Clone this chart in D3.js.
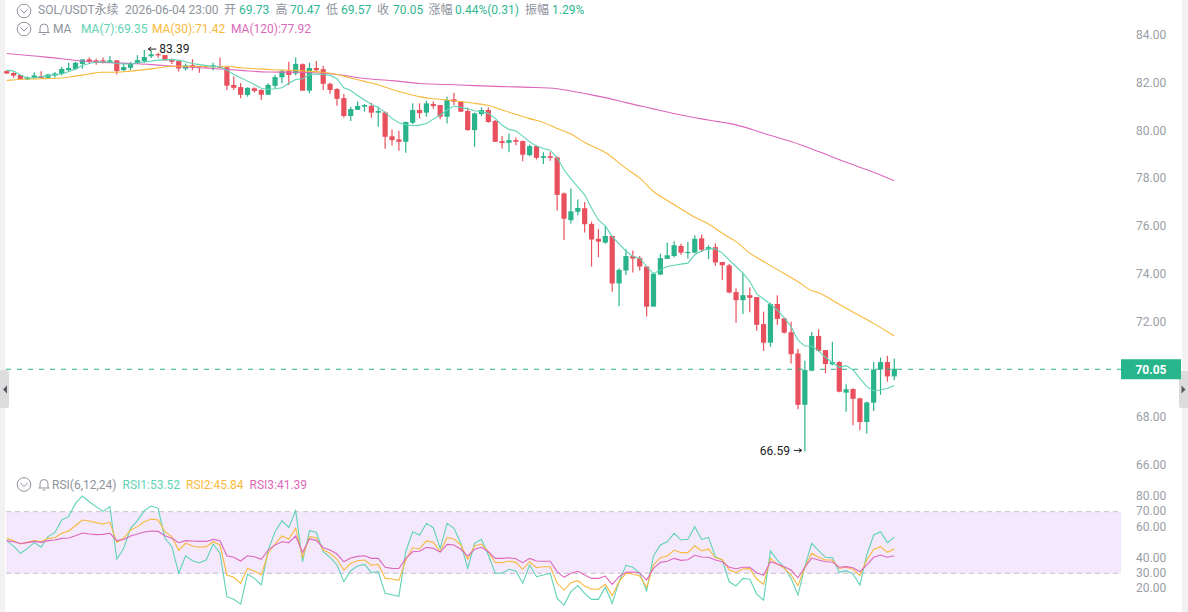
<!DOCTYPE html>
<html>
<head>
<meta charset="utf-8">
<title>SOL/USDT</title>
<script src="https://cdn.jsdelivr.net/npm/d3@7/dist/d3.min.js"></script>
<style>
html,body{margin:0;padding:0;background:#fff;overflow:hidden}
svg{display:block}
text{font-family:Roboto,"Noto Sans CJK SC",sans-serif;font-size:12px}
</style>
</head>
<body>
<svg id="chart" width="1188" height="612"></svg>
<script>
// Hourly candles, oldest first
const opens=[82.51,82.43,82.35,82.16,82.23,82.30,82.23,82.32,82.39,82.55,82.60,82.81,83.00,82.96,82.96,82.86,82.96,82.55,82.65,82.83,82.92,83.13,83.22,83.18,82.99,82.93,82.61,82.76,82.72,82.72,82.67,82.71,82.67,81.93,81.84,81.51,81.79,81.72,81.52,81.89,82.25,82.51,82.41,
82.80,81.69,82.64,82.59,81.98,81.76,81.38,80.63,80.89,81.02,81.05,80.77,80.78,79.78,79.65,79.55,80.35,80.88,80.77,81.13,81.09,80.60,81.33,81.23,80.84,80.04,80.71,80.88,80.42,79.58,79.51,79.62,79.58,78.99,79.37,78.88,78.95,78.90,77.39,76.27,76.62,
76.77,76.11,75.49,75.33,75.61,73.62,74.16,74.77,74.68,74.33,72.65,73.99,74.65,74.77,75.19,74.90,74.91,75.51,75.05,75.14,74.52,74.38,73.26,72.92,73.13,73.05,71.92,71.14,72.76,72.16,71.58,70.69,68.54,69.97,71.42,70.83,70.23,70.33,69.05,69.20,68.81,67.82,68.63,70.02,70.33,69.73];
const highs=[82.53,82.46,82.35,82.28,82.46,82.50,82.40,82.47,82.69,82.86,82.90,83.00,83.08,83.03,83.08,83.14,82.96,82.85,82.89,83.18,83.39,83.36,83.28,83.18,83.04,82.93,82.83,83.01,82.72,82.75,82.86,83.08,82.69,82.28,82.00,81.83,81.83,81.75,82.00,82.35,82.58,82.90,83.08,
82.83,82.86,82.93,82.73,82.02,81.79,81.55,81.02,81.24,81.13,81.19,81.02,80.82,80.07,80.01,80.40,81.16,81.16,81.27,81.24,81.09,81.44,81.60,81.23,80.99,80.77,80.99,80.99,80.46,79.79,79.90,79.73,79.60,79.44,79.40,79.11,79.13,78.93,77.43,77.60,77.14,
77.03,76.21,75.90,76.03,75.61,74.26,75.05,75.00,74.77,74.36,74.08,74.86,75.33,75.39,75.28,75.36,75.64,75.67,75.22,75.30,74.52,74.44,73.42,74.07,73.45,73.05,72.44,72.81,73.13,72.18,72.02,70.89,70.39,71.59,71.70,70.83,71.18,70.36,69.40,69.23,68.84,68.67,70.33,70.52,70.59,70.47];
const lows=[82.39,82.23,82.16,82.14,82.19,82.19,82.19,82.23,82.33,82.47,82.55,82.61,82.85,82.78,82.83,82.86,82.37,82.49,82.55,82.81,82.86,83.06,83.07,82.93,82.81,82.49,82.53,82.55,82.44,82.64,82.53,82.64,81.72,81.72,81.37,81.44,81.62,81.30,81.51,81.77,82.00,81.93,82.33,
81.69,81.58,82.50,81.72,81.56,81.06,80.57,80.42,80.88,80.81,80.56,80.18,79.26,79.40,79.18,79.09,80.29,80.53,80.60,80.93,80.49,80.32,81.09,80.80,80.01,79.34,80.63,80.35,79.54,79.27,79.11,79.41,78.74,78.95,78.81,78.62,78.76,76.67,75.44,76.13,76.46,
75.75,74.33,74.72,75.28,73.27,72.67,73.97,74.08,74.16,72.24,72.65,73.98,74.64,74.72,74.82,74.66,74.89,74.94,74.64,74.36,73.77,73.21,71.98,72.34,72.41,71.64,70.80,70.97,71.88,71.53,70.27,68.35,66.59,69.95,70.76,69.86,70.20,69.07,68.25,67.69,67.48,67.34,68.28,68.96,69.51,69.57];
const closes=[82.41,82.32,82.18,82.25,82.33,82.22,82.37,82.41,82.60,82.64,82.86,83.00,82.90,82.86,82.86,82.96,82.51,82.68,82.85,82.97,83.10,83.21,83.17,82.96,82.90,82.62,82.75,82.67,82.68,82.68,82.75,82.65,81.90,81.81,81.52,81.81,81.68,81.52,81.93,82.26,82.50,82.35,82.81,
81.69,82.64,82.55,81.98,81.72,81.35,80.63,80.92,81.05,81.09,80.77,80.84,79.76,79.62,79.55,80.38,80.88,80.75,81.16,81.05,80.60,81.30,81.23,80.81,80.04,80.74,80.88,80.38,79.55,79.50,79.62,79.55,79.01,79.37,78.88,78.95,78.88,77.33,76.33,76.64,76.78,
76.10,75.46,75.37,75.61,73.62,74.19,74.77,74.66,74.33,72.65,74.02,74.68,74.80,75.22,74.91,74.94,75.49,75.03,75.14,74.50,74.38,73.24,72.92,73.13,73.02,71.89,71.14,72.76,72.14,71.56,70.66,68.54,70.00,71.42,70.80,70.25,70.33,69.09,69.19,68.79,67.82,68.64,70.02,70.33,69.73,70.05];

// Moving averages
const ma7=[82.55,82.51,82.35,82.22,82.23,82.28,82.32,82.36,82.40,82.48,82.60,82.74,82.83,82.89,82.89,82.89,82.83,82.81,82.81,82.86,82.89,82.93,82.97,82.99,82.99,82.97,82.90,82.83,82.78,82.74,82.71,82.69,82.55,82.37,82.23,82.09,81.95,81.79,81.75,81.77,81.81,82.00,82.16,
82.19,82.36,82.39,82.37,82.33,82.19,81.81,81.70,81.49,81.30,81.12,80.99,80.78,80.53,80.35,80.27,80.22,80.25,80.32,80.50,80.67,80.88,81.05,80.99,80.93,80.85,80.81,80.74,80.53,80.24,80.07,80.00,79.79,79.55,79.37,79.27,79.20,78.88,78.38,78.00,77.66,
77.33,76.77,76.28,76.03,75.58,75.28,74.98,74.75,74.68,74.33,74.02,74.19,74.33,74.38,74.43,74.47,74.82,74.98,75.07,75.07,74.89,74.61,74.33,74.05,73.70,73.18,72.97,72.75,72.50,72.19,71.81,71.25,71.00,71.00,70.80,70.53,70.30,70.11,70.18,70.00,69.65,69.30,69.13,69.16,69.23,69.35];
const ma30Index=[0,3,5,8,10,12,14,16,18,20,22,24,26,28,30,32,34,36,38,40,42,44,46,48,50,52,54,56,58,60,62,64,66,68,70,72,74,76,78,80,82,84,87,90,92,94,96,98,100,102,104,106,108,110,112,114,115,117,118,120,122,124,126,128,129];
const ma30=[82.12,82.18,82.19,82.22,82.30,82.39,82.46,82.46,82.51,82.57,82.64,82.71,82.71,82.71,82.69,82.71,82.65,82.61,82.58,82.55,82.54,82.50,82.46,82.37,82.22,82.08,81.94,81.74,81.58,81.44,81.35,81.30,81.24,81.16,81.07,80.88,80.70,80.52,80.36,80.11,79.88,79.52,79.10,78.44,78.03,77.47,77.09,76.74,76.39,76.11,75.72,75.37,74.89,74.54,74.20,73.87,73.69,73.32,73.23,72.92,72.58,72.27,71.95,71.60,71.42];
const ma120Index=[0,4,8,11,15,19,22,26,30,34,38,42,48,52,56,60,64,68,72,76,80,82,84,87,90,94,98,102,106,110,114,118,122,126,129];
const ma120=[83.25,83.14,83.03,82.93,82.86,82.82,82.76,82.68,82.62,82.54,82.47,82.46,82.37,82.20,82.11,81.99,81.95,81.90,81.86,81.83,81.77,81.68,81.57,81.40,81.19,80.93,80.67,80.46,80.26,79.91,79.56,79.14,78.69,78.28,77.92];

// Relative strength series
const rsi1=[51.2,47.7,43.0,46.0,49.9,46.9,53.8,56.4,64.6,66.8,75.4,80.2,76.5,73.3,70.2,73.3,39.1,46.2,59.2,64.2,70.7,73.7,72.2,52.7,47.3,30.0,41.4,38.2,36.9,38.6,49.0,43.0,14.8,13.1,10.0,29.5,26.7,22.4,45.1,57.0,64.2,59.8,70.7,37.5,57.7,56.6,44.1,40.4,35.4,24.6,31.7,34.7,35.8,30.4,31.1,17.0,16.1,15.0,
44.0,57.0,54.9,62.4,59.6,46.2,62.4,59.2,49.5,33.2,49.5,52.1,41.9,30.0,30.0,32.6,31.5,23.5,35.4,27.8,28.9,30.0,13.7,9.4,18.1,22.0,17.0,13.1,13.1,20.9,10.5,24.6,35.2,33.9,30.0,18.5,41.2,48.4,50.5,56.0,51.6,52.1,
60.3,52.0,53.3,40.8,38.6,24.5,21.7,26.7,26.1,16.5,12.6,44.7,38.6,33.9,26.7,15.9,34.3,49.4,44.7,40.4,40.2,30.6,31.7,29.5,22.4,41.9,54.9,57.0,49.9,53.52];
const rsi2=[52.7,51.2,49.0,50.1,51.2,50.5,52.7,53.1,56.0,57.5,60.9,64.6,64.0,62.9,62.0,63.1,50.1,52.7,58.1,60.3,63.5,65.2,64.6,57.0,53.8,44.9,49.5,47.7,46.9,47.3,50.5,48.4,28.9,27.4,23.5,33.2,31.5,28.9,43.0,49.0,54.2,52.3,59.2,40.4,53.8,53.1,45.1,43.0,39.1,32.1,36.5,38.2,38.6,35.2,35.8,26.7,26.3,25.4,
38.6,46.6,45.8,51.0,50.1,44.0,53.1,52.3,48.4,39.1,47.7,49.0,44.0,36.9,36.9,38.0,37.1,32.6,37.5,33.6,34.3,34.3,23.5,19.1,23.9,25.2,21.7,19.6,19.6,22.8,15.5,24.6,30.0,29.5,28.2,20.9,35.4,40.1,41.2,45.1,43.4,43.4,
47.9,44.5,45.8,40.1,39.0,32.1,30.6,32.8,33.0,26.3,22.8,39.7,36.0,33.2,28.9,22.0,33.9,43.0,40.4,38.6,38.6,33.2,33.9,32.6,28.7,38.6,45.5,47.3,43.6,45.84];
const rsi3=[51.2,50.5,49.4,49.9,50.7,50.1,51.2,51.6,52.7,52.9,54.4,56.2,55.5,55.1,55.3,56.0,51.2,52.0,54.2,55.5,56.8,57.5,57.2,54.4,52.7,49.9,51.2,51.0,50.7,50.7,52.0,51.2,41.4,40.4,38.0,41.4,40.8,39.1,45.1,48.4,50.5,49.9,54.2,43.6,52.3,51.4,46.6,45.1,42.5,37.5,39.9,41.0,41.4,39.7,39.7,33.9,33.2,33.1,
39.7,44.0,44.3,46.9,46.2,43.8,48.8,48.4,45.6,41.2,45.6,46.9,44.0,39.7,39.7,40.1,39.5,36.9,39.7,38.0,37.8,37.8,31.1,27.4,30.0,31.3,28.9,26.7,26.7,28.2,22.8,27.8,30.6,30.8,30.4,25.6,33.2,37.1,37.8,39.7,38.4,38.8,
41.7,40.6,40.4,38.6,37.5,33.9,33.0,33.9,33.9,30.4,28.7,37.5,36.0,34.3,32.1,27.1,33.9,39.9,38.6,37.5,37.3,33.9,34.3,33.6,31.0,35.4,40.4,41.9,40.4,41.39];

const priceTicks=[84,82,80,78,76,74,72,68,66];
const rsiTicks=[80,70,60,40,30,20];
const rsiBand=[30,70];
const lastPrice=70.05;
const peak={index:20,value:83.39};
const trough={index:116,value:66.59};

const summaryRow=[
  ["SOL/USDT永续",38,"label"],["2026-06-04 23:00",125,"label"],
  ["开",224,"label"],["69.73",239,"value"],["高",275.5,"label"],["70.47",290,"value"],
  ["低",326,"label"],["69.57",341,"value"],["收",377,"label"],["70.05",393,"value"],
  ["涨幅",428.5,"label"],["0.44%(0.31)",455,"value"],["振幅",525,"label"],["1.29%",552,"value"]
];
const maRow=[["MA",53,"label"],["MA(7):69.35",81,"ma7"],["MA(30):71.42",152,"ma30"],["MA(120):77.92",231,"ma120"]];
const rsiRow=[["RSI(6,12,24)",52,"label"],["RSI1:53.52",122.5,"ma7"],["RSI2:45.84",186,"ma30"],["RSI3:41.39",249.5,"ma120"]];

const colors={up:"#2bb48c",down:"#e9505d",ma7:"#5fd3b6",ma30:"#f8b93c",ma120:"#dc68bb",
  label:"#8e939c",value:"#2fb892",axis:"#9a9ea6",band:"#f4e8fc",edge:"#f2f2f3",handle:"#dcdcdd"};
const headerColor={label:colors.label,value:colors.value,ma7:colors.ma7,ma30:colors.ma30,ma120:colors.ma120};

const svg=d3.select("#chart");
const n=closes.length;
const x=d3.scaleLinear().domain([0,n-1]).range([6.7,894.3]);
const y=d3.scaleLinear().domain([66,84]).range([465.5,35.5]);
const yRsi=d3.scaleLinear().domain([30,70]).range([573.3,511.7]);
const plotLeft=6,plotRight=1121;

// Side rails and their collapse handles
svg.append("rect").attr("x",0).attr("y",0).attr("width",5).attr("height",612).attr("fill",colors.edge);
svg.append("rect").attr("x",1182).attr("y",0).attr("width",6).attr("height",612).attr("fill",colors.edge);
svg.append("rect").attr("x",0).attr("y",370).attr("width",9).attr("height",38).attr("rx",2).attr("fill",colors.handle);
svg.append("rect").attr("x",1179).attr("y",371).attr("width",9).attr("height",37).attr("rx",2).attr("fill",colors.handle);
svg.append("path").attr("d","M3 389.5L7 385.5V393.5Z").attr("fill","#555a60");
svg.append("path").attr("d","M1185.5 389.5L1181.5 385.5V393.5Z").attr("fill","#555a60");

// RSI band
svg.append("rect").attr("x",plotLeft).attr("y",yRsi(rsiBand[1])).attr("width",plotRight-plotLeft)
  .attr("height",yRsi(rsiBand[0])-yRsi(rsiBand[1])).attr("fill",colors.band);
svg.append("g").selectAll("line").data(rsiBand).join("line")
  .attr("x1",plotLeft).attr("x2",plotRight).attr("y1",d=>yRsi(d)).attr("y2",d=>yRsi(d))
  .attr("stroke","#c4c2c9").attr("stroke-dasharray","5 4");

// Candles
const candles=svg.append("g").selectAll("g").data(d3.range(n)).join("g");
const candleColor=i=>closes[i]>=opens[i]?colors.up:colors.down;
candles.append("line")
  .attr("x1",i=>x(i)).attr("x2",i=>x(i)).attr("y1",i=>y(highs[i])).attr("y2",i=>y(lows[i]))
  .attr("stroke",candleColor).attr("stroke-width",1.2);
candles.append("rect")
  .attr("x",i=>x(i)-2.6).attr("width",5.2)
  .attr("y",i=>y(Math.max(opens[i],closes[i])))
  .attr("height",i=>Math.max(1.2,Math.abs(y(opens[i])-y(closes[i]))))
  .attr("fill",candleColor);

// Moving average lines
const drawLine=(xs,vals,scale,color,curve)=>svg.append("path")
  .datum(vals)
  .attr("fill","none").attr("stroke",color).attr("stroke-width",1.1)
  .attr("d",d3.line().x((d,k)=>x(xs[k])).y(d=>scale(d)).curve(curve||d3.curveLinear));
const allIdx=d3.range(n);
drawLine(ma120Index,ma120,y,colors.ma120,d3.curveMonotoneX);
drawLine(ma30Index,ma30,y,colors.ma30,d3.curveMonotoneX);
drawLine(allIdx,ma7,y,colors.ma7);

// RSI lines
drawLine(allIdx,rsi1,yRsi,colors.ma7);
drawLine(allIdx,rsi2,yRsi,colors.ma30);
drawLine(allIdx,rsi3,yRsi,colors.ma120);

// Last price marker
svg.append("line").datum(lastPrice).attr("x1",plotLeft).attr("x2",plotRight)
  .attr("y1",d=>y(d)+0.5).attr("y2",d=>y(d)+0.5)
  .attr("stroke",colors.up).attr("stroke-dasharray","5 6");
svg.append("rect").attr("x",plotRight).attr("width",60).attr("y",y(lastPrice)-9.5).attr("height",20).attr("fill","#27b58b");
svg.append("text").attr("x",1151).attr("y",y(lastPrice)+0.5).attr("dy","0.36em").attr("text-anchor","middle")
  .attr("fill","#fff").attr("font-weight",700).text(lastPrice.toFixed(2));

// Value axes
const styleAxis=g=>{
  g.select(".domain").remove();
  g.selectAll(".tick line").remove();
  g.selectAll(".tick text").attr("x",0).attr("dy","0.32em").attr("fill",colors.axis)
    .style("font-family","Roboto,sans-serif").style("font-size","12px");
};
svg.append("g").attr("transform","translate(1136,-0.8)")
  .call(d3.axisRight(y).tickValues(priceTicks).tickFormat(d3.format(".2f"))).call(styleAxis);
svg.append("g").attr("transform","translate(1136,-0.6)")
  .call(d3.axisRight(yRsi).tickValues(rsiTicks).tickFormat(d3.format(".2f"))).call(styleAxis);

// High and low callouts
const arrow=(x1,x2,yy)=>{
  const dir=x2>x1?1:-1;
  svg.append("path").attr("fill","none").attr("stroke","#222").attr("stroke-width",1)
    .attr("d",`M${x1} ${yy}H${x2}M${x2-dir*3} ${yy-2}L${x2} ${yy}L${x2-dir*3} ${yy+2}`);
};
arrow(x(peak.index)+12,x(peak.index)+4,y(peak.value)-1);
svg.append("text").attr("x",x(peak.index)+15).attr("y",y(peak.value)-1).attr("dy","0.35em")
  .attr("fill","#222").text(peak.value.toFixed(2));
arrow(x(trough.index)-11,x(trough.index)-3,y(trough.value)-1);
svg.append("text").attr("x",x(trough.index)-45).attr("y",y(trough.value)-1).attr("dy","0.35em")
  .attr("fill","#222").text(trough.value.toFixed(2));

// Legend rows
const addRow=(row,yy)=>svg.append("g").selectAll("text").data(row).join("text")
  .attr("x",d=>d[1]).attr("y",yy).attr("dy","0.36em")
  .attr("fill",d=>headerColor[d[2]]).text(d=>d[0]);
addRow(summaryRow,10);
addRow(maRow,29);
addRow(rsiRow,484.5);

const chevron=(cx,cy)=>{
  const g=svg.append("g").attr("fill","none").attr("stroke","#8e939c").attr("stroke-width",1);
  g.append("circle").attr("cx",cx).attr("cy",cy).attr("r",6.8);
  g.append("path").attr("d",`M${cx-3.5} ${cy-1.5}L${cx} ${cy+2}L${cx+3.5} ${cy-1.5}`);
};
const bell=(cx,cy)=>{
  svg.append("path").attr("fill","none").attr("stroke","#8e939c").attr("stroke-width",1)
    .attr("d",`M${cx-5.5} ${cy+3.5}H${cx+5.5}M${cx-4} ${cy+3.5}V${cy-1}A4 4 0 0 1 ${cx+4} ${cy-1}V${cy+3.5}M${cx-1.5} ${cy+5.5}H${cx+1.5}`);
};
chevron(24,11);chevron(24,29);chevron(24,484.5);
bell(44,29);bell(44,484.5);
</script>
</body>
</html>
